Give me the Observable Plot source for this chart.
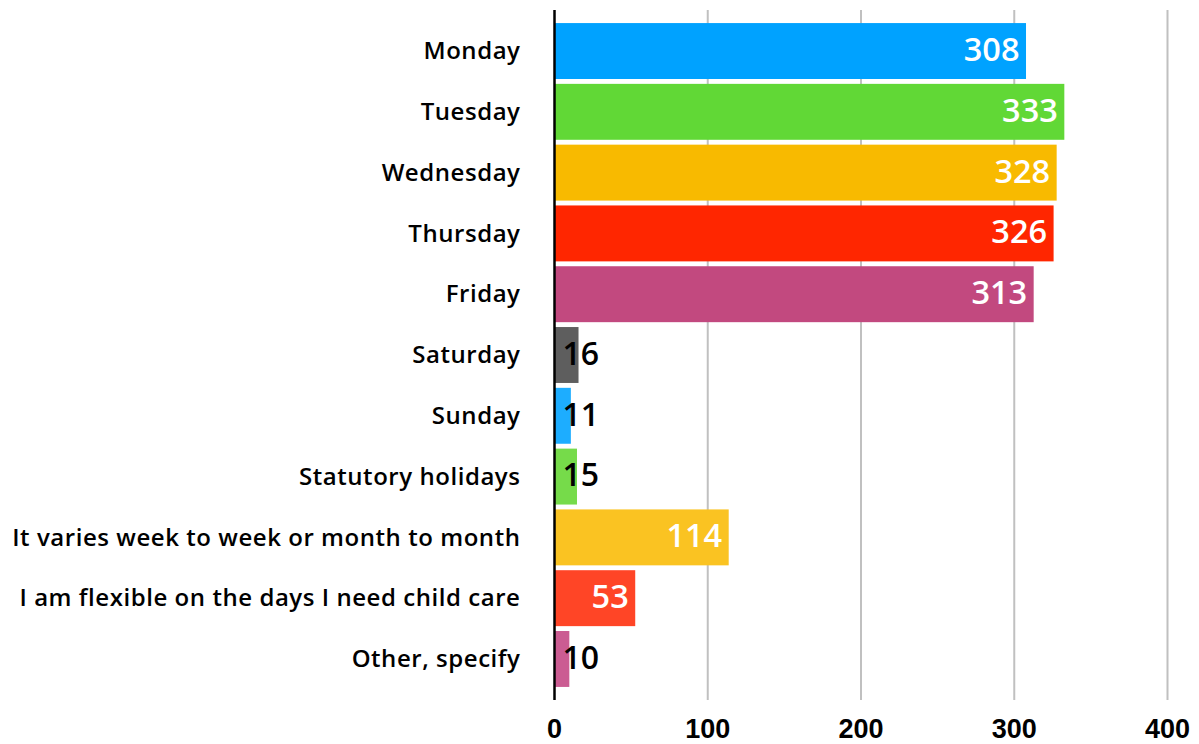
<!DOCTYPE html>
<html>
<head>
<meta charset="utf-8">
<script src="https://cdn.jsdelivr.net/npm/d3@7"></script>
<script src="https://cdn.jsdelivr.net/npm/@observablehq/plot@0.6"></script>
<style>
  body { margin: 0; background: #fff; }
  #chart svg { display: block; }
  #chart svg g[aria-label="y-axis tick label"] text { letter-spacing: 0.55px; }
</style>
</head>
<body>
<div id="chart"></div>
<script>
const categories = [
  "Monday", "Tuesday", "Wednesday", "Thursday", "Friday", "Saturday", "Sunday",
  "Statutory holidays", "It varies week to week or month to month",
  "I am flexible on the days I need child care", "Other, specify"
];
const values = [308, 333, 328, 326, 313, 16, 11, 15, 114, 53, 10];
const barColors = [
  "#00A2FF", "#61D836", "#F8BA00", "#FF2600", "#C2497F", "#5E5E5E",
  "#1DADFF", "#76DB4A", "#FAC322", "#FF4526", "#CB5C92"
];
const xTicks = [0, 100, 200, 300, 400];
const gridTicks = [100, 200, 300, 400];

const data = categories.map((c, i) => ({ category: c, value: values[i], color: barColors[i] }));
const inside = data.filter(d => d.value >= 50);
const outside = data.filter(d => d.value < 50);

const labelFont = "'Open Sans', Lato, sans-serif";

const chart = Plot.plot({
  width: 1199,
  height: 744,
  marginLeft: 554,
  marginRight: 32,
  marginTop: 10,
  marginBottom: 44,
  style: { background: "#fff", fontFamily: labelFont },
  color: { type: "identity" },
  x: { domain: [0, 400], label: null },
  y: { domain: categories, paddingInner: 0.08, paddingOuter: 0.215, round: false, label: null },
  marks: [
    Plot.ruleX(gridTicks, { stroke: "#c0c0c0", strokeWidth: 2 }),
    Plot.barX(data, { x: "value", y: "category", fill: "color" }),
    Plot.ruleX([0], { stroke: "#000", strokeWidth: 2.5 }),
    Plot.text(inside, {
      x: "value", y: "category", text: d => String(d.value),
      textAnchor: "end", dx: -7, dy: -1, fill: "white",
      fontSize: 32.5, fontWeight: 600, fontFamily: labelFont
    }),
    Plot.text(outside, {
      x: 0, y: "category", text: d => String(d.value),
      textAnchor: "start", dx: 8, dy: -1, fill: "black",
      fontSize: 32, fontWeight: 600, fontFamily: labelFont
    }),
    Plot.axisX(xTicks, {
      tickSize: 0, tickPadding: 18, label: null,
      fontSize: 27, fontWeight: "bold", fontFamily: "'Liberation Sans', Arial, sans-serif",
      fill: "#000"
    }),
    Plot.axisY({
      tickSize: 0, tickPadding: 34, label: null,
      fontSize: 24, fontWeight: 600, fontFamily: labelFont, fill: "#000"
    })
  ]
});
document.getElementById("chart").append(chart);
</script>
</body>
</html>
